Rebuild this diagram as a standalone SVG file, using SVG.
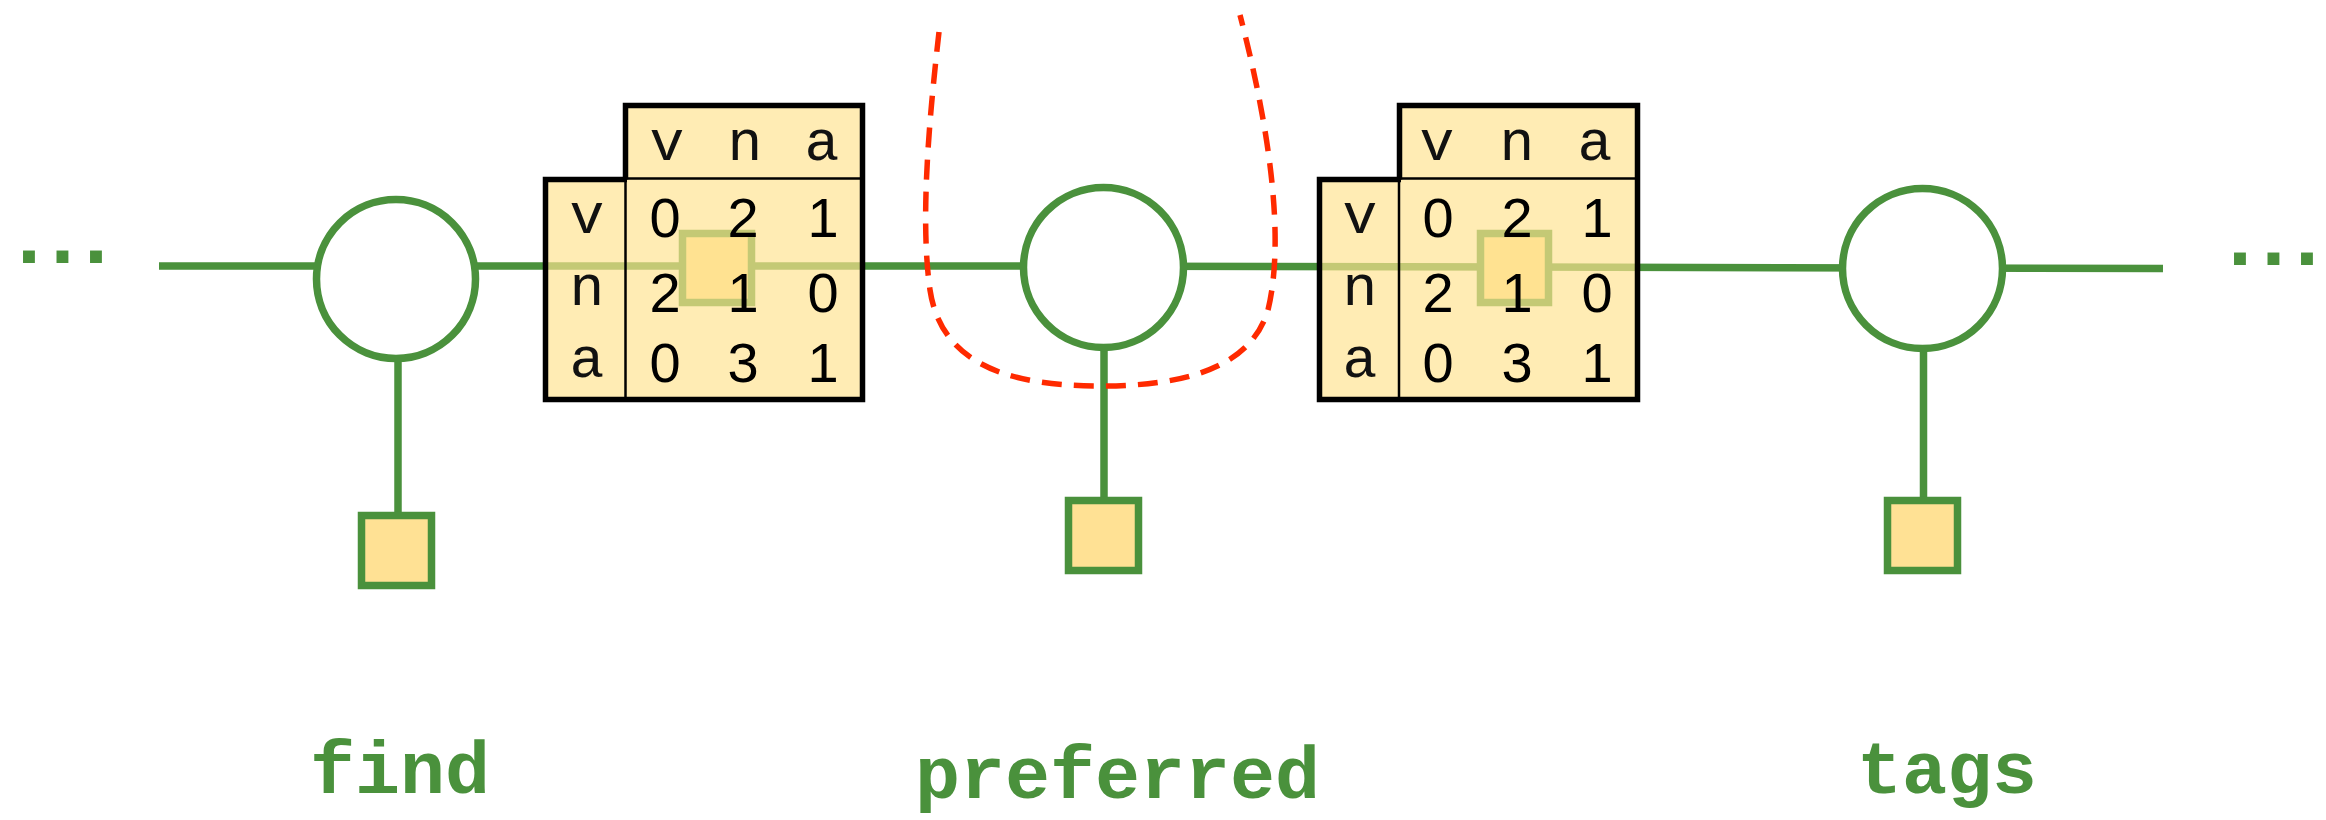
<svg xmlns="http://www.w3.org/2000/svg" width="2326" height="820" viewBox="0 0 2326 820">
<style>
.edge{stroke:#4A913C;stroke-width:7.5;fill:none}
.var{fill:#FFFFFF;stroke:#4A913C;stroke-width:7.5}
.fac{fill:#FFE194;stroke:#4A913C;stroke-width:7.5}
.tfill{fill:#FFE391;opacity:0.68}
.tborder{fill:none;stroke:#000;stroke-width:5.5}
.tthin{stroke:#000;stroke-width:2.5}
.lab{font-family:"Courier New","Liberation Mono",monospace;font-size:58px;fill:#111;text-anchor:middle}
.num{font-family:"Liberation Sans",Arial,sans-serif;font-size:56px;fill:#000;text-anchor:middle}
.word{font-family:"Courier New","Liberation Mono",monospace;font-weight:bold;font-size:75px;fill:#4A913C;text-anchor:middle}
.dots{font-family:"Courier New","Liberation Mono",monospace;font-weight:bold;font-size:84px;letter-spacing:-16.9px;fill:#4A913C}
.cut{fill:none;stroke:#FF2A00;stroke-width:5.5;stroke-dasharray:20 12}
</style>
<g id="connectors">
<polyline class="edge" points="159,266 1020,266 2163,268.5"/>
<line class="edge" x1="398" y1="360" x2="398" y2="516"/>
<line class="edge" x1="1104" y1="345" x2="1104" y2="501"/>
<line class="edge" x1="1923.5" y1="346" x2="1923.5" y2="501"/>
</g>
<g id="factor-pair1"><rect class="fac" x="682.5" y="233.5" width="69" height="69"/></g>
<g id="factor-pair2"><rect class="fac" x="1480.5" y="233.5" width="68" height="69"/></g>
<g id="table1">
<path class="tfill" d="M625.5,105.5 H862.5 V399.5 H545.5 V179.5 H625.5 Z"/>
<line class="tthin" x1="625.5" y1="178.5" x2="862.5" y2="178.5"/>
<line class="tthin" x1="625.5" y1="178.5" x2="625.5" y2="399.5"/>
<path class="tborder" d="M625.5,179.5 V105.5 H862.5 V399.5 H545.5 V179.5 H627"/>
<text class="lab" x="667" y="160">v</text>
<text class="lab" x="745" y="160">n</text>
<text class="lab" x="822" y="160">a</text>
<text class="lab" x="587" y="233">v</text>
<text class="lab" x="587" y="305">n</text>
<text class="lab" x="587" y="377">a</text>
<text class="num" x="665" y="237">0</text>
<text class="num" x="743" y="237">2</text>
<text class="num" x="823" y="237">1</text>
<text class="num" x="665" y="312">2</text>
<text class="num" x="743" y="312">1</text>
<text class="num" x="823" y="312">0</text>
<text class="num" x="665" y="382">0</text>
<text class="num" x="743" y="382">3</text>
<text class="num" x="823" y="382">1</text>
</g>
<g id="table2">
<path class="tfill" d="M1399.5,105.5 H1637.5 V399.5 H1319.5 V179.5 H1399.5 Z"/>
<line class="tthin" x1="1399.5" y1="178.5" x2="1637.5" y2="178.5"/>
<line class="tthin" x1="1399" y1="178.5" x2="1399" y2="399.5"/>
<path class="tborder" d="M1399.5,179.5 V105.5 H1637.5 V399.5 H1319.5 V179.5 H1401"/>
<text class="lab" x="1437" y="160">v</text>
<text class="lab" x="1517" y="160">n</text>
<text class="lab" x="1595" y="160">a</text>
<text class="lab" x="1360" y="233">v</text>
<text class="lab" x="1360" y="305">n</text>
<text class="lab" x="1360" y="377">a</text>
<text class="num" x="1438" y="237">0</text>
<text class="num" x="1517" y="237">2</text>
<text class="num" x="1597" y="237">1</text>
<text class="num" x="1438" y="312">2</text>
<text class="num" x="1517" y="312">1</text>
<text class="num" x="1597" y="312">0</text>
<text class="num" x="1438" y="382">0</text>
<text class="num" x="1517" y="382">3</text>
<text class="num" x="1597" y="382">1</text>
</g>
<g id="cut-curve"><path class="cut" d="M939,32 C929,120 920,220 930,290 C942,370 1020,386 1100,386 C1180,386 1250,370 1268,310 C1285,240 1270,130 1240,15"/></g>
<g id="var-find"><circle class="var" cx="396" cy="279" r="79.5"/></g>
<g id="var-preferred"><circle class="var" cx="1103.5" cy="267.5" r="80"/></g>
<g id="var-tags"><circle class="var" cx="1922.5" cy="268.5" r="80"/></g>
<g id="obs-find"><rect class="fac" x="361.5" y="515.5" width="70" height="70"/></g>
<g id="obs-preferred"><rect class="fac" x="1068.5" y="500.5" width="70" height="70"/></g>
<g id="obs-tags"><rect class="fac" x="1887.5" y="500.5" width="70" height="70"/></g>
<g id="dots-left"><text class="dots" x="3.8" y="263">...</text></g>
<g id="dots-right"><text class="dots" x="2214.8" y="265">...</text></g>
<g id="labels">
<text class="word" x="400" y="793">find</text>
<text class="word" x="1117.5" y="798">preferred</text>
<text class="word" x="1947" y="793">tags</text>
</g>
</svg>
